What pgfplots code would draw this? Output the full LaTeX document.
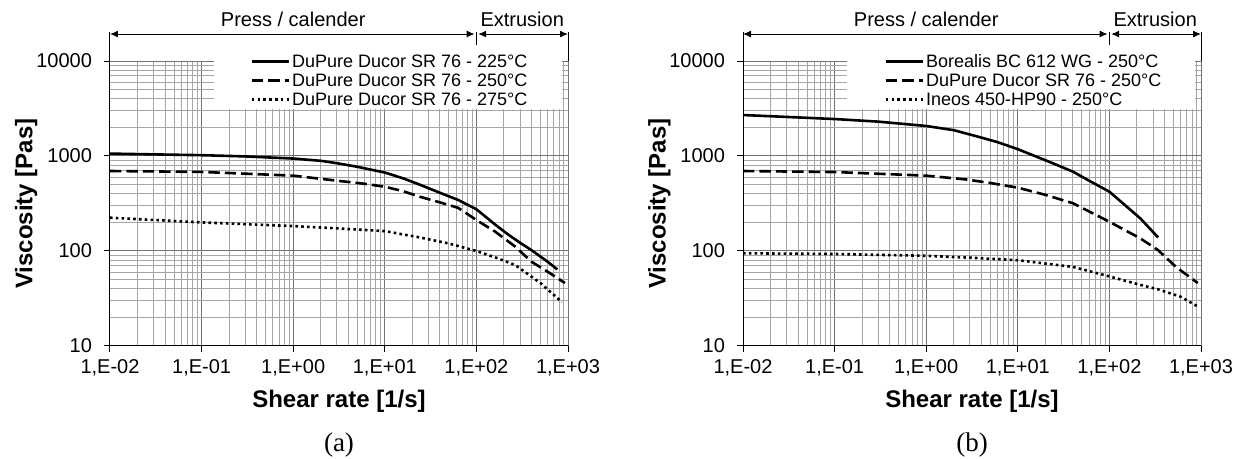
\documentclass[border=0pt]{standalone}
\usepackage{fontspec}
\setmainfont{Liberation Sans}
\newfontfamily\capfont{Liberation Serif}
\usepackage{pgfplots}
\pgfplotsset{compat=1.18}
\usetikzlibrary{arrows.meta}

\pgfplotsset{
  legend image code/.code={\draw[#1] (0pt,0pt) -- (18.5pt,0pt);},
  every axis x label/.style={at={(rel axis cs:0.5,-0.2175)}, anchor=base,
    font=\bfseries\fontsize{12}{14}\selectfont},
  every axis y label/.style={at={(rel axis cs:-0.1692,0.5)}, rotate=90, anchor=base,
    font=\bfseries\fontsize{12}{14}\selectfont},
}

\newcommand{\axopts}{
    scale only axis, width=229pt, height=142.5pt,
    xmin=1e-2, xmax=1e3, ymin=10, ymax=1e4,
    clip=false,
    axis x line*=bottom, axis y line*=left,
    axis line style={black, line width=0.5pt, -},
    xtick={1e-2,1e-1,1,1e1,1e2,1e3},
    xticklabels={{1,E-02},{1,E-01},{1,E+00},{1,E+01},{1,E+02},{1,E+03}},
    ytick={10,100,1000,10000},
    yticklabels={10,100,1000,10000},
    minor xtick={0.02,0.03,0.04,0.05,0.06,0.07,0.08,0.09,0.2,0.3,0.4,0.5,0.6,0.7,0.8,0.9,2,3,4,5,6,7,8,9,20,30,40,50,60,70,80,90,200,300,400,500,600,700,800,900},
    minor ytick={20,30,40,50,60,70,80,90,200,300,400,500,600,700,800,900,2000,3000,4000,5000,6000,7000,8000,9000},
    tick align=outside, major tick length=3pt, minor tick length=0pt,
    tick style={black, line width=0.5pt},
    grid=both,
    major grid style={black!55, line width=0.5pt},
    minor grid style={black!35, line width=0.5pt},
    tick label style={font=\fontsize{10}{12}\selectfont},
    yticklabel style={xshift=-2.5pt},
    xlabel={Shear rate [1/s]}, ylabel={Viscosity [Pas]},
    legend cell align=left,
    legend style={anchor=north west, draw=none, fill=none, inner sep=0pt,
      row sep=1.9pt, column sep=1pt, font=\fontsize{9}{10}\selectfont,
      nodes={inner sep=0pt, text height=6.6pt, text depth=1pt}},
}

\newcommand{\ranges}{%
  \fill[white] (axis cs:0.137,3100) rectangle (axis cs:850,10500);
  \draw[line width=0.5pt] (rel axis cs:0,1) -- (rel axis cs:0,1.1018);
  \draw[line width=0.5pt] (rel axis cs:0.8,1.056) -- (rel axis cs:0.8,1.1018);
  \draw[line width=0.5pt] (rel axis cs:1,1) -- (rel axis cs:1,1.1018);
  \draw[line width=0.5pt, {Latex[length=4pt,width=3.5pt]}-{Latex[length=4pt,width=3.5pt]}]
    (rel axis cs:0,1.0947) -- (rel axis cs:0.796,1.0947);
  \draw[line width=0.5pt, {Latex[length=4pt,width=3.5pt]}-{Latex[length=4pt,width=3.5pt]}]
    (rel axis cs:0.804,1.0947) -- (rel axis cs:1,1.0947);
  \node[anchor=base, font=\fontsize{10}{12}\selectfont] at (rel axis cs:0.4,1.121) {Press / calender};
  \node[anchor=base, font=\fontsize{10}{12}\selectfont] at (rel axis cs:0.9,1.121) {Extrusion};
}

\begin{document}
\begin{tikzpicture}
\path[use as bounding box] (0,0) rectangle (621.5pt,229.5pt);

\expandafter\pgfplotsset\expandafter{\axopts}
\begin{loglogaxis}[at={(55pt,56.5pt)}, anchor=south west,
  legend style={at={(rel axis cs:0.3057,1.0263)}}]
\ranges
\addplot[black, line width=1.3pt] coordinates {(0.01,1060) (0.03,1040) (0.1,1020) (0.3,990) (1,940) (2,890) (3,840) (5,770) (10,670) (16,580) (24,500) (40,410) (63,345) (100,275) (160,190) (220,150) (300,122) (400,102) (600,77) (765,64)};
\addlegendentry{DuPure Ducor SR 76 - 225°C}
\addplot[black, line width=1.3pt, dash pattern=on 5.7pt off 2.5pt] coordinates {(0.01,695) (0.1,680) (1,621) (3,550) (6,510) (10,475) (16,425) (24,373) (40,325) (63,285) (100,212) (160,160) (266,111) (400,77) (600,60.5) (926,46)};
\addlegendentry{DuPure Ducor SR 76 - 250°C}
\addplot[black, line width=1.3pt, dash pattern=on 1.3pt off 1.6pt] coordinates {(0.01,224) (0.1,200) (1,183) (3,173) (10,162) (24,139) (50,120) (100,100) (170,84) (266,71) (500,46) (857,29)};
\addlegendentry{DuPure Ducor SR 76 - 275°C}
\node[font=\capfont\fontsize{13.5}{15}\selectfont] at (rel axis cs:0.5,-0.347) {(a)};
\end{loglogaxis}

\begin{loglogaxis}[at={(371.5pt,56.5pt)}, anchor=south west,
  legend style={at={(rel axis cs:0.3079,1.0263)}}]
\ranges
\addplot[black, line width=1.3pt] coordinates {(0.01,2700) (0.1,2450) (0.3,2300) (1,2070) (2,1870) (3.66,1600) (6,1400) (10,1180) (22,870) (40,684) (60,550) (100,421) (217,221) (340,139)};
\addlegendentry{Borealis BC 612 WG - 250°C}
\addplot[black, line width=1.3pt, dash pattern=on 5.7pt off 2.5pt] coordinates {(0.01,695) (0.1,678) (1,621) (2.7,567) (5,520) (10,464) (20,390) (40,318) (100,203) (217,136) (340,102) (533,68) (923,46)};
\addlegendentry{DuPure Ducor SR 76 - 250°C}
\addplot[black, line width=1.3pt, dash pattern=on 1.3pt off 1.6pt] coordinates {(0.01,94.6) (0.1,93) (1,89) (3,85) (10,80) (40,68) (100,54) (217,44) (340,39.5) (600,33) (923,26)};
\addlegendentry{Ineos 450-HP90 - 250°C}
\node[font=\capfont\fontsize{13.5}{15}\selectfont] at (rel axis cs:0.5,-0.347) {(b)};
\end{loglogaxis}
\end{tikzpicture}
\end{document}
